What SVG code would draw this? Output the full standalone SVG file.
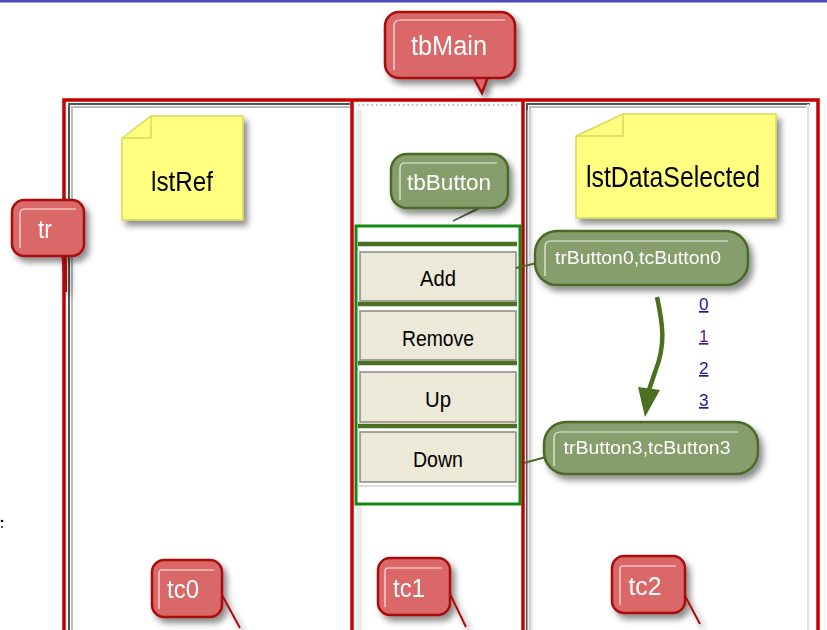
<svg xmlns="http://www.w3.org/2000/svg" width="827" height="630" viewBox="0 0 827 630">
<defs>
<filter id="sh" x="-20%" y="-20%" width="150%" height="160%"><feDropShadow dx="4" dy="5" stdDeviation="3" flood-color="#000" flood-opacity="0.45"/></filter>
<style>
.red{fill:#da6767;stroke:#a80f0f;stroke-width:2.5}
.grn{fill:#869e6c;stroke:#4b6a2a;stroke-width:2.5}
.hl{fill:none;stroke:#fff;stroke-width:1.2;opacity:0.85}
.ct{font-family:"Liberation Sans",Arial,sans-serif;fill:#fff;text-anchor:middle}
.note{fill:#ffff80;stroke:#d8d85a;stroke-width:1.5}
.nt{font-family:"Liberation Sans",Arial,sans-serif;fill:#000;text-anchor:middle}
.btn{fill:#ece9d8;stroke:#8a8a80;stroke-width:1.5}
.bt{font-family:"Liberation Sans",Arial,sans-serif;font-size:22px;fill:#000;text-anchor:middle}
.bar{stroke:#4a7020;stroke-width:4.5}
.col{stroke:#c40000;stroke-width:3.5;fill:none}
.lk{font-family:"Liberation Sans",Arial,sans-serif;font-size:17px;fill:#1a1a9a;text-decoration:underline}
</style>
</defs>
<rect x="0" y="0" width="827" height="630" fill="#fff"/>
<rect x="0" y="0" width="827" height="2.5" fill="#4a4ab8"/>
<circle cx="2" cy="521" r="1.3" fill="#000"/>
<circle cx="2" cy="527" r="0.9" fill="#000"/>

<g id="table">
  <path d="M69,630 L69,104 L350,104" fill="none" stroke="#555" stroke-width="2"/>
  <path d="M72,630 L72,107 L350,107" fill="none" stroke="#bbb" stroke-width="2"/>
  <line x1="358" y1="105" x2="518" y2="105" stroke="#bbb" stroke-width="2" stroke-dasharray="1.5,3"/>
  <path d="M527,630 L527,104 L810,104" fill="none" stroke="#555" stroke-width="2"/>
  <path d="M530,630 L530,107 L806,107" fill="none" stroke="#bbb" stroke-width="2"/>
  <line x1="808" y1="104" x2="808" y2="630" stroke="#e0e0d0" stroke-width="2"/>
  <rect x="356" y="110" width="6" height="520" fill="#ddd" opacity="0.6"/>
  <rect x="527" y="110" width="6" height="520" fill="#ddd" opacity="0.6"/>
  <path class="col" d="M64,630 L64,100 L818,100 L818,630"/>
  <line class="col" x1="352" y1="100" x2="352" y2="630"/>
  <line class="col" x1="523" y1="100" x2="523" y2="630"/>
</g>

<g id="tbButton-box">
  <rect x="356" y="226" width="164" height="278" fill="#fff" stroke="#138a13" stroke-width="3"/>
  <line class="bar" x1="358" y1="244" x2="517" y2="244"/>
  <line class="bar" x1="358" y1="304" x2="517" y2="304"/>
  <line class="bar" x1="358" y1="363" x2="517" y2="363"/>
  <line class="bar" x1="358" y1="426" x2="517" y2="426"/>
  <line x1="358" y1="486" x2="517" y2="486" stroke="#ddd" stroke-width="2"/>
</g>

<g id="btnAdd"><rect class="btn" x="360" y="252" width="156" height="49"/><text class="bt" x="438" y="286" textLength="36" lengthAdjust="spacingAndGlyphs">Add</text></g>
<g id="btnRemove"><rect class="btn" x="360" y="311" width="156" height="49"/><text class="bt" x="438" y="346" textLength="72" lengthAdjust="spacingAndGlyphs">Remove</text></g>
<g id="btnUp"><rect class="btn" x="360" y="372" width="156" height="50"/><text class="bt" x="438" y="407" textLength="26" lengthAdjust="spacingAndGlyphs">Up</text></g>
<g id="btnDown"><rect class="btn" x="360" y="432" width="156" height="50"/><text class="bt" x="438" y="467" textLength="50" lengthAdjust="spacingAndGlyphs">Down</text></g>

<g id="links">
  <text class="lk" x="699" y="310">0</text>
  <text class="lk" x="699" y="342" style="fill:#5a1a8a">1</text>
  <text class="lk" x="699" y="374">2</text>
  <text class="lk" x="699" y="406">3</text>
</g>

<g id="connectors">
  <path d="M657,297 C663,325 666,345 655,372 L649,390" fill="none" stroke="#4a7020" stroke-width="4.5"/>
  <polygon points="638,387 660,390 645,417" fill="#4a7020"/>
  <line x1="537" y1="263" x2="516" y2="268" stroke="#4b6a2a" stroke-width="2"/>
  <line x1="546" y1="457" x2="524" y2="463" stroke="#4b6a2a" stroke-width="2"/>
  <path d="M482,207 L453,221 L479,208" fill="#869e6c" stroke="#4b6a2a" stroke-width="1.5"/>
</g>

<g id="lstRef" filter="url(#sh)">
  <path class="note" d="M151,116 L243,116 L243,220 L122,220 L122,138 Z"/>
  <path d="M151,116 L151,138 L122,138" fill="none" stroke="#d8d85a" stroke-width="1.5"/>
  <text class="nt" x="182" y="191" font-size="28" textLength="62" lengthAdjust="spacingAndGlyphs">lstRef</text>
</g>

<g id="lstDataSelected" filter="url(#sh)">
  <path class="note" d="M623,114 L776,114 L776,218 L576,218 L576,136 Z"/>
  <path d="M623,114 L623,136 L576,136" fill="none" stroke="#d8d85a" stroke-width="1.5"/>
  <text class="nt" x="673" y="187" font-size="29" textLength="174" lengthAdjust="spacingAndGlyphs">lstDataSelected</text>
</g>

<g id="tbMain" filter="url(#sh)">
  <path class="red" d="M473,77 L482,93 L488,77 Z"/>
  <rect class="red" x="385" y="12" width="130" height="66" rx="14"/>
  <path class="hl" d="M394,70 L394,26 Q394,20 400,20 L505,20"/>
  <text class="ct" x="449" y="55" font-size="27" textLength="76" lengthAdjust="spacingAndGlyphs">tbMain</text>
</g>

<g id="tr" filter="url(#sh)">
  <path d="M62,255 L66,292 L66,255" fill="none" stroke="#a80f0f" stroke-width="2"/>
  <rect class="red" x="12" y="200" width="72" height="56" rx="12"/>
  <path class="hl" d="M20,248 L20,214 Q20,209 25,209 L76,209"/>
  <text class="ct" x="45" y="238" font-size="26" textLength="14" lengthAdjust="spacingAndGlyphs">tr</text>
</g>

<g id="tbButton" filter="url(#sh)">
  <rect class="grn" x="391" y="154" width="117" height="54" rx="16"/>
  <path class="hl" d="M400,200 L400,168 Q400,163 405,163 L497,163"/>
  <text class="ct" x="449" y="190" font-size="22" textLength="84" lengthAdjust="spacingAndGlyphs">tbButton</text>
</g>

<g id="trButton0" filter="url(#sh)">
  <rect class="grn" x="535" y="231" width="213" height="54" rx="22"/>
  <path class="hl" d="M545,276 L545,247 Q545,241 551,241 L728,241"/>
  <text class="ct" x="638" y="264" font-size="19" textLength="166" lengthAdjust="spacingAndGlyphs">trButton0,tcButton0</text>
</g>

<g id="trButton3" filter="url(#sh)">
  <rect class="grn" x="544" y="422" width="214" height="52" rx="22"/>
  <path class="hl" d="M554,466 L554,438 Q554,432 560,432 L738,432"/>
  <text class="ct" x="647" y="454" font-size="19" textLength="167" lengthAdjust="spacingAndGlyphs">trButton3,tcButton3</text>
</g>

<g id="tc0" filter="url(#sh)">
  <line x1="222" y1="595" x2="240" y2="628" stroke="#a80f0f" stroke-width="2"/>
  <rect class="red" x="152" y="560" width="70" height="57" rx="12"/>
  <path class="hl" d="M159,609 L159,573 Q159,570 162,570 L214,570"/>
  <text class="ct" x="183" y="598" font-size="26" textLength="32" lengthAdjust="spacingAndGlyphs">tc0</text>
</g>

<g id="tc1" filter="url(#sh)">
  <line x1="450" y1="594" x2="466" y2="627" stroke="#a80f0f" stroke-width="2"/>
  <rect class="red" x="378" y="558" width="72" height="57" rx="12"/>
  <path class="hl" d="M385,607 L385,571 Q385,568 388,568 L442,568"/>
  <text class="ct" x="409" y="597" font-size="26" textLength="32" lengthAdjust="spacingAndGlyphs">tc1</text>
</g>

<g id="tc2" filter="url(#sh)">
  <line x1="684" y1="594" x2="700" y2="624" stroke="#a80f0f" stroke-width="2"/>
  <rect class="red" x="612" y="556" width="73" height="57" rx="12"/>
  <path class="hl" d="M620,605 L620,569 Q620,566 623,566 L676,566"/>
  <text class="ct" x="645" y="595" font-size="26" textLength="33" lengthAdjust="spacingAndGlyphs">tc2</text>
</g>
</svg>
